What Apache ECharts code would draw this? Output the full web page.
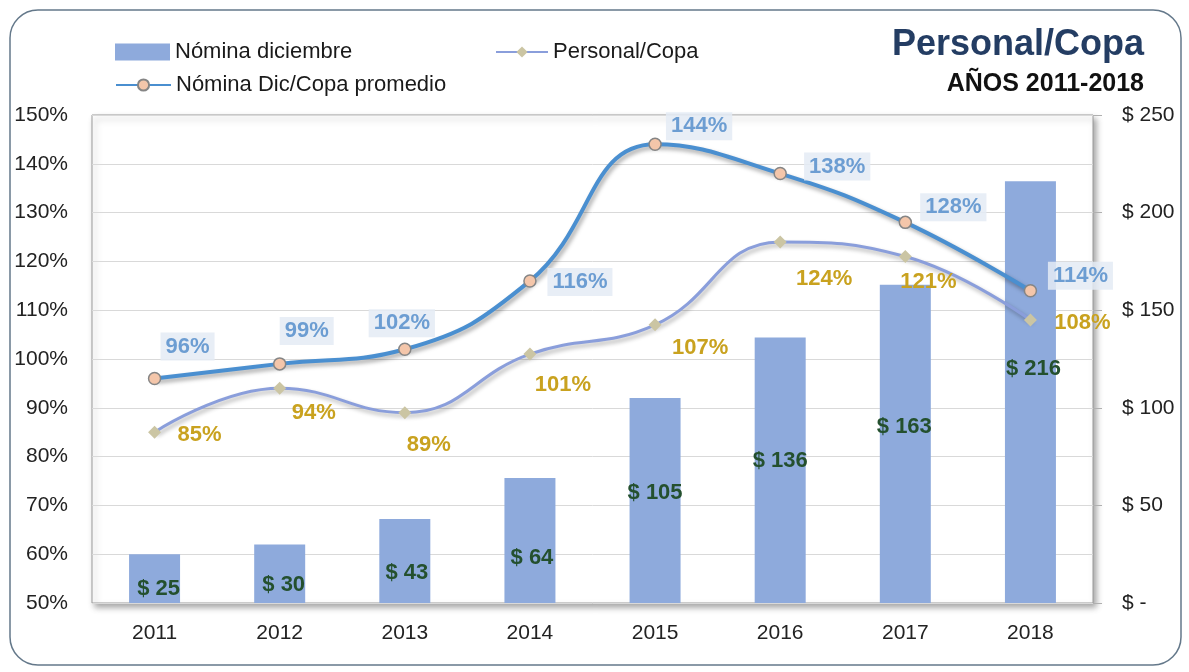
<!DOCTYPE html>
<html>
<head>
<meta charset="utf-8">
<script src="https://cdn.jsdelivr.net/npm/echarts@6/dist/echarts.min.js"></script>
<style>
html,body{margin:0;padding:0;background:#fff;}
#chart{width:1189px;height:672px;}
</style>
</head>
<body>
<div id="chart"></div>
<script>
// ---- data ----
const years = ['2011', '2012', '2013', '2014', '2015', '2016', '2017', '2018'];
const nominaDiciembre = [25, 30, 43, 64, 105, 136, 163, 216];
const nominaCopaPromedio = [96, 99, 102, 116, 144, 138, 128, 114];
const personalCopa = [85, 94, 89, 101, 107, 124, 121, 108];
const pctAxis = { min: 50, max: 150, interval: 10 };
const moneyAxis = { min: 0, max: 250, interval: 50 };

// ---- label placement (style only) ----
const barLabelOffsets = [[4, 10], [4, 11], [2, 12], [2, 17], [0, -8], [0, -9], [-1, -17], [3, -23]];
const promLabelOffsets = [[33, -32], [27, -33], [-3, -26], [50, 1], [44, -18], [57, -7], [48, -15], [50, -15]];
const personalLabelOffsets = [[45, 3], [34, 25], [24, 32], [33, 31], [45, 23], [44, 37], [23, 25], [52, 3]];

const FONT = "'Liberation Sans', Arial, sans-serif";
const chart = echarts.init(document.getElementById('chart'));

const option = {
  backgroundColor: '#ffffff',
  animation: false,
  textStyle: { fontFamily: FONT },
  graphic: [
    { type: 'rect', z: -10, shape: { x: 10, y: 10, width: 1171, height: 655, r: 28 },
      style: { fill: 'none', stroke: '#64788a', lineWidth: 1.5 } },
    { type: 'text', x: 1144, y: 45, z: 10,
      style: { text: 'Personal/Copa', fill: '#243d63', font: "bold 36px 'Liberation Sans', Arial, sans-serif",
               textAlign: 'right', textVerticalAlign: 'middle' } },
    { type: 'text', x: 1144, y: 84, z: 10,
      style: { text: 'AÑOS 2011-2018', fill: '#111111', font: "bold 25px 'Liberation Sans', Arial, sans-serif",
               textAlign: 'right', textVerticalAlign: 'middle' } }
  ],
  legend: [
    { data: [{ name: 'Nómina diciembre', icon: 'rect' }], left: 110, top: 36, itemWidth: 55, itemHeight: 17, itemGap: 0,
      textStyle: { fontSize: 22, color: '#1a1a1a', fontFamily: FONT } },
    { data: ['Personal/Copa'], left: 490, top: 36, itemWidth: 52, itemHeight: 14, itemGap: 0,
      textStyle: { fontSize: 22, color: '#1a1a1a', fontFamily: FONT } },
    { data: ['Nómina Dic/Copa promedio'], left: 110, top: 69, itemWidth: 55, itemHeight: 14, itemGap: 0,
      textStyle: { fontSize: 22, color: '#1a1a1a', fontFamily: FONT } }
  ],
  grid: {
    left: 92, right: 96, top: 115, bottom: 69,
    show: true, backgroundColor: '#ffffff', borderColor: '#9a9a9a', borderWidth: 1,
    shadowColor: 'rgba(0,0,0,0.35)', shadowBlur: 6, shadowOffsetX: 3, shadowOffsetY: 4
  },
  xAxis: {
    type: 'category', data: years,
    axisLine: { show: false }, axisTick: { show: false },
    axisLabel: { fontSize: 21, color: '#222', margin: 20, fontFamily: FONT }
  },
  yAxis: [
    { type: 'value', min: pctAxis.min, max: pctAxis.max, interval: pctAxis.interval, position: 'left',
      axisLine: { show: false }, axisTick: { show: false },
      axisLabel: { fontSize: 21, color: '#222', margin: 24, formatter: '{value}%', fontFamily: FONT },
      splitLine: { lineStyle: { color: '#d9d9d9', width: 1 } } },
    { type: 'value', min: moneyAxis.min, max: moneyAxis.max, interval: moneyAxis.interval, position: 'right',
      axisLine: { show: false }, axisTick: { show: true, length: 9, lineStyle: { color: '#b0b0b0' } },
      axisLabel: { fontSize: 21, color: '#222', margin: 29, fontFamily: FONT,
        formatter: v => v === 0 ? '$ -' : '$ ' + v },
      splitLine: { show: false } }
  ],
  series: [
    {
      name: 'Nómina diciembre', type: 'bar', yAxisIndex: 1, barWidth: 51, z: 2,
      itemStyle: { color: '#8eaadc' },
      label: { show: true, position: 'inside', color: '#24502e', fontWeight: 'bold', fontSize: 22,
        fontFamily: FONT, formatter: p => '$ ' + p.value },
      data: nominaDiciembre.map((v, i) => ({ value: v, label: { offset: barLabelOffsets[i] } }))
    },
    {
      name: 'Personal/Copa', type: 'line', yAxisIndex: 0, smooth: 0.45, z: 3,
      symbol: 'diamond', symbolSize: 13,
      lineStyle: { color: '#8a9edb', width: 3, shadowColor: 'rgba(0,0,0,0.3)', shadowBlur: 4, shadowOffsetX: 2, shadowOffsetY: 3 },
      itemStyle: { color: '#cbc5a3', borderWidth: 0 },
      label: { show: true, position: 'inside', color: '#c9a21f', fontWeight: 'bold', fontSize: 22,
        fontFamily: FONT, formatter: '{c}%' },
      data: personalCopa.map((v, i) => ({ value: v, label: { offset: personalLabelOffsets[i] } }))
    },
    {
      name: 'Nómina Dic/Copa promedio', type: 'line', yAxisIndex: 0, smooth: 0.45, z: 4,
      symbol: 'circle', symbolSize: 12,
      lineStyle: { color: '#4a8fd0', width: 4, shadowColor: 'rgba(0,0,0,0.35)', shadowBlur: 4, shadowOffsetX: 2, shadowOffsetY: 3 },
      itemStyle: { color: '#f4c6aa', borderColor: '#858585', borderWidth: 1.5 },
      label: { show: true, position: 'inside', color: '#6c9dd2', fontWeight: 'bold', fontSize: 22,
        fontFamily: FONT, formatter: '{c}%', backgroundColor: 'rgba(228,235,245,0.85)', padding: [3, 5] },
      data: nominaCopaPromedio.map((v, i) => ({ value: v, label: { offset: promLabelOffsets[i] } }))
    }
  ]
};
chart.setOption(option);
</script>
</body>
</html>
